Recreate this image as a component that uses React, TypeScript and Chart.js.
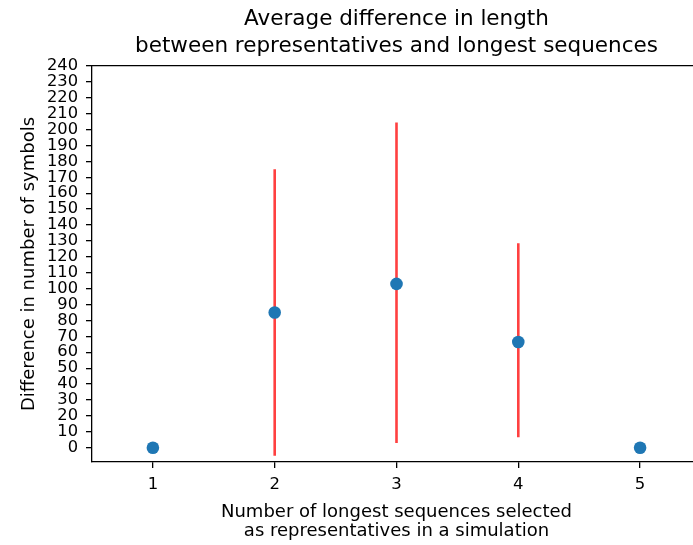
import React, { useEffect, useRef } from "react";
import { Chart, registerables } from "chart.js";

Chart.register(...registerables);

// ---- data ----
const xValues = [1, 2, 3, 4, 5];
const meanDiff = [0, 85, 103, 66.5, 0];
const errLow = [0, -5, 3, 6.5, 0];
const errHigh = [0, 175, 204.5, 128.5, 0];
const xTickValues = [1, 2, 3, 4, 5];
const yTickValues = [0, 10, 20, 30, 40, 50, 60, 70, 80, 90, 100, 110, 120, 130, 140, 150, 160, 170, 180, 190, 200, 210, 220, 230, 240];
const titleLines = ["Average difference in length", "between representatives and longest sequences"];
const xLabelLines = ["Number of longest sequences selected", "as representatives in a simulation"];
const yLabel = "Difference in number of symbols";

const FONT = "'DejaVu Sans', sans-serif";

export default function App() {
  const ref = useRef<HTMLCanvasElement | null>(null);

  useEffect(() => {
    if (!ref.current) return;
    const points = xValues.map((x, i) => ({ x, y: meanDiff[i] }));
    const bars: { x: number; y: number | null }[] = [];
    xValues.forEach((x, i) => {
      bars.push({ x, y: errLow[i] });
      bars.push({ x, y: errHigh[i] });
      bars.push({ x, y: null });
    });

    const chart = new Chart(ref.current, {
      type: "scatter",
      data: {
        datasets: [
          {
            data: points,
            backgroundColor: "#1f77b4",
            borderColor: "#1f77b4",
            borderWidth: 0,
            pointRadius: 6.3,
          },
          {
            data: bars as any,
            showLine: true,
            spanGaps: false,
            borderColor: "#ff4040",
            borderWidth: 2.6,
            pointRadius: 0,
            borderCapStyle: "butt",
          },
        ],
      },
      options: {
        animation: false,
        responsive: false,
        devicePixelRatio: 1,
        layout: { padding: 0, autoPadding: false },
        plugins: {
          legend: { display: false },
          tooltip: { enabled: false },
          title: { display: false },
        },
        scales: {
          x: {
            type: "linear",
            position: "bottom",
            min: 0.5,
            max: 5.5,
            afterBuildTicks: (axis: any) => {
              axis.ticks = xTickValues.map((v) => ({ value: v }));
            },
            afterFit: (axis: any) => {
              axis.height = 83;
            },
            ticks: {
              autoSkip: false,
              maxRotation: 0,
              padding: 7,
              color: "#000",
              font: { family: FONT, size: 16.5 },
              callback: (v: any) => String(v),
            },
            grid: {
              display: true,
              drawOnChartArea: false,
              drawTicks: true,
              tickLength: 6,
              tickColor: "#000",
              lineWidth: 1.3,
            },
            border: { display: true, color: "#000", width: 1.3 },
            title: {
              display: true,
              text: xLabelLines,
              color: "#000",
              font: { family: FONT, size: 18, lineHeight: "19px" },
              padding: { top: 0, bottom: 4.5 },
            },
          },
          top: {
            type: "linear",
            position: "top",
            min: 0.5,
            max: 5.5,
            afterFit: (axis: any) => {
              axis.height = 66;
            },
            ticks: { display: false },
            grid: {
              display: true,
              drawOnChartArea: false,
              drawTicks: false,
            },
            border: { display: true, color: "#000", width: 1.3 },
            title: {
              display: true,
              text: titleLines,
              color: "#000",
              font: { family: FONT, size: 21.5, lineHeight: "26.6px" },
              padding: { top: 6.5, bottom: 0 },
            },
          },
          y: {
            type: "linear",
            position: "left",
            min: -9,
            max: 240,
            afterBuildTicks: (axis: any) => {
              axis.ticks = yTickValues.map((v) => ({ value: v }));
            },
            afterFit: (axis: any) => {
              axis.width = 92;
            },
            ticks: {
              autoSkip: false,
              padding: 8,
              color: "#000",
              font: { family: FONT, size: 16.3 },
              callback: (v: any) => String(v),
            },
            grid: {
              display: true,
              drawOnChartArea: false,
              drawTicks: true,
              tickLength: 6,
              tickColor: "#000",
              lineWidth: 1.3,
            },
            border: { display: true, color: "#000", width: 1.3 },
            title: {
              display: true,
              text: yLabel,
              color: "#000",
              font: { family: FONT, size: 18, lineHeight: "20px" },
              padding: { top: 19.5, bottom: 0 },
            },
          },
        },
      } as any,
    });
    return () => chart.destroy();
  }, []);

  return (
    <div style={{ position: "fixed", left: 0, top: 0, width: 693, height: 545, overflow: "hidden", background: "#fff" }}>
      <canvas ref={ref} width={701} height={545} style={{ width: 701, height: 545, display: "block" }} />
    </div>
  );
}
